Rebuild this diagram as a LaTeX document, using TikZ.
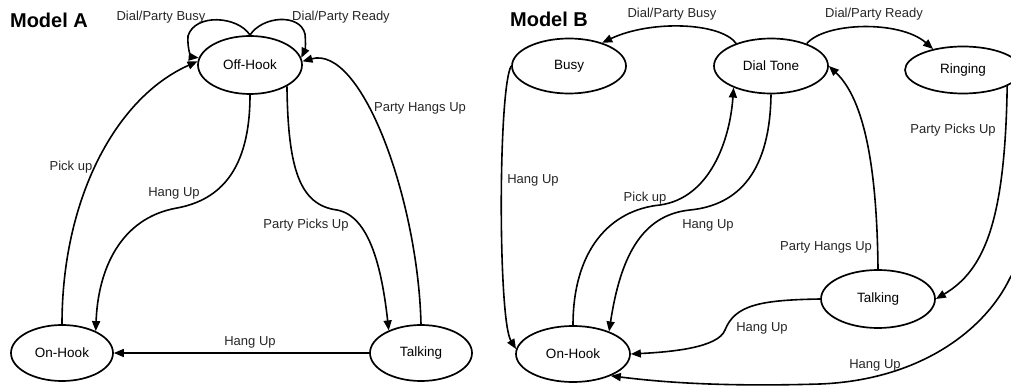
\documentclass[tikz,border=0pt]{standalone}
\usepackage{fontspec}
\setmainfont{Liberation Sans}
\usetikzlibrary{arrows.meta,shapes.geometric}
\begin{document}
\begin{tikzpicture}[x=1pt,y=-1pt,
  state/.style={draw,ellipse,line width=1.7pt,inner sep=0pt,font=\fontsize{13.5}{15}\selectfont},
  lbl/.style={inner sep=0pt,text=black!85,font=\fontsize{13}{15}\selectfont},
  ttl/.style={inner sep=0pt,font=\fontsize{20}{22}\selectfont\bfseries},
  tr/.style={line width=1.6pt,-{Triangle[length=10pt,width=8pt]}}]
\useasboundingbox (0,0) rectangle (1011,387);
% ---------------- Model A ----------------
\node[ttl] (titleA) at (49,20) {Model A};
\node[state,minimum width=104pt,minimum height=58pt] (offA) at (250,65) {Off-Hook};
\node[state,minimum width=102pt,minimum height=56pt] (onA) at (62,353) {On-Hook};
\node[state,minimum width=102pt,minimum height=56pt] (talkA) at (421,353) {Talking};

\draw[tr] (offA.north) .. controls (238,16) and (195,13) .. (188,36)
          .. controls (187,50) and (192,57) .. (offA.172);
\draw[tr] (offA.north) .. controls (262,16) and (300,13) .. (305,34)
          .. controls (306,45) and (305,50) .. (offA.8);
\draw[tr] (onA.north) .. controls (62,200) and (115,98) .. (offA.176);
\draw[tr] (offA.south) .. controls (250,170) and (220,200) .. (177,208)
          .. controls (120,218) and (98,270) .. (onA.33);
\draw[tr] (offA.-30) .. controls (288,170) and (300,205) .. (337,210)
          .. controls (370,216) and (382,270) .. (talkA.145);
\draw[tr] (talkA.north) .. controls (418,200) and (362,45) .. (offA.4);
\draw[tr] (talkA.west) -- (onA.east);

\node[lbl] (lA1) at (161,17) {Dial/Party Busy};
\node[lbl] (lA2) at (341,17) {Dial/Party Ready};
\node[lbl] (lA3) at (71,167) {Pick up};
\node[lbl] (lA4) at (174,193) {Hang Up};
\node[lbl] (lA5) at (306,225) {Party Picks Up};
\node[lbl] (lA6) at (420,108) {Party Hangs Up};
\node[lbl] (lA7) at (250,342) {Hang Up};

% ---------------- Model B ----------------
\node[ttl] (titleB) at (549,19) {Model B};
\node[state,minimum width=114pt,minimum height=55pt] (busy) at (569,66) {Busy};
\node[state,minimum width=114pt,minimum height=55pt] (dial) at (771,66) {Dial Tone};
\node[state,minimum width=116pt,minimum height=47pt] (ring) at (963,70) {Ringing};
\node[state,minimum width=114pt,minimum height=56pt] (onB) at (573,354) {On-Hook};
\node[state,minimum width=114pt,minimum height=58pt] (talkB) at (878,299) {Talking};

\draw[tr] (dial.147) .. controls (720,22) and (650,20) .. (busy.35);
\draw[tr] (dial.32) .. controls (825,22) and (900,20) .. (ring.145);
\draw[tr] (busy.west) .. controls (498,90) and (498,320) .. (onB.175);
\draw[tr] (onB.north) .. controls (573,250) and (610,210) .. (660,205)
          .. controls (710,198) and (730,140) .. (dial.-150);
\draw[tr] (dial.south) .. controls (770,170) and (740,205) .. (690,210)
          .. controls (640,215) and (620,260) .. (onB.32);
\draw[tr] (talkB.north) .. controls (877,170) and (865,100) .. (dial.east);
\draw[tr] (ring.-20) .. controls (1005,220) and (985,270) .. (talkB.east);
\draw[tr] (talkB.west) .. controls (760,300) and (735,305) .. (725,330)
          .. controls (718,348) and (670,352) .. (onB.east);
\draw[tr] (ring.east) .. controls (1045,160) and (1040,230) .. (1010,278)
          .. controls (985,330) and (920,380) .. (820,384)
          .. controls (720,387) and (660,382) .. (onB.-30);

\node[lbl] (lB1) at (672,14) {Dial/Party Busy};
\node[lbl] (lB2) at (874,14) {Dial/Party Ready};
\node[lbl] (lB3) at (533,180) {Hang Up};
\node[lbl] (lB4) at (645,198) {Pick up};
\node[lbl] (lB5) at (708,225) {Hang Up};
\node[lbl] (lB6) at (826,247) {Party Hangs Up};
\node[lbl] (lB7) at (953,130) {Party Picks Up};
\node[lbl] (lB8) at (762,328) {Hang Up};
\node[lbl] (lB9) at (875,365) {Hang Up};
\end{tikzpicture}
\end{document}
